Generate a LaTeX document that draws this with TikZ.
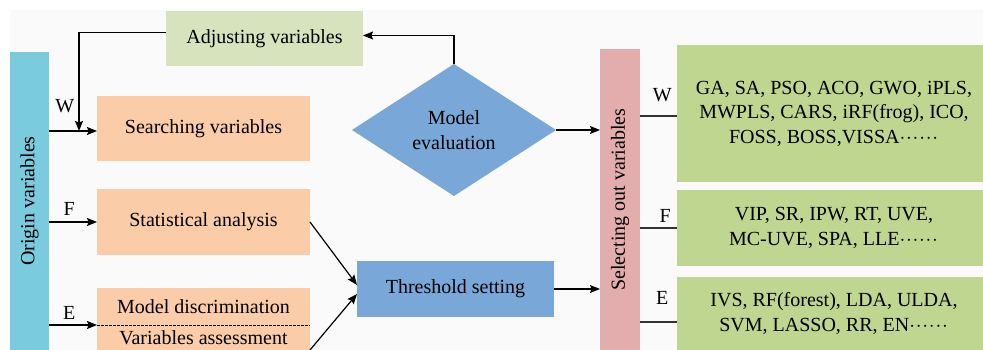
\documentclass[tikz,border=0pt]{standalone}
\usepackage{fontspec}
\setmainfont{Liberation Serif}
\usetikzlibrary{arrows.meta, positioning, shapes.geometric, calc}
\definecolor{OriginC}{HTML}{7BCBDE}
\definecolor{AdjustC}{HTML}{D6E3BC}
\definecolor{PeachC}{HTML}{FACDA8}
\definecolor{BlueC}{HTML}{79A7D7}
\definecolor{PinkC}{HTML}{E4ADAD}
\definecolor{GreenC}{HTML}{BED68F}
\definecolor{BackC}{HTML}{FAFAFA}
\newcommand{\onedot}{\mathord{\cdot}\kern0.8pt}
\newcommand{\moredots}{$\onedot\onedot\onedot\onedot\onedot\onedot$}
\tikzset{
  base/.style={inner sep=0pt, outer sep=0pt, align=center},
  obox/.style={base, fill=OriginC, minimum width=39pt, minimum height=298pt},
  abox/.style={base, fill=AdjustC, minimum width=197pt, minimum height=55pt},
  pbox/.style={base, fill=PeachC, minimum width=213pt},
  tbox/.style={base, fill=BlueC, minimum width=197pt, minimum height=56pt},
  dbox/.style={base, fill=BlueC, diamond, minimum width=204pt, minimum height=132pt},
  sbox/.style={base, fill=PinkC, minimum width=40pt, minimum height=301pt},
  gbox/.style={base, fill=GreenC, minimum width=314pt},
  flow/.style={-{Stealth[length=10pt, width=8pt, inset=1.5pt]}, line width=1.2pt},
  link/.style={line width=1.2pt, draw=black!80},
  dline/.style={line width=0.8pt, dash pattern=on 2.5pt off 1.5pt},
  tag/.style={inner sep=0pt},
}

\begin{document}
\begin{tikzpicture}[x=1pt, y=1pt, font=\fontsize{20}{24.5}\selectfont]
    \useasboundingbox (0,0) rectangle (983,350);
    \clip (0,0) rectangle (983,350);
    \fill[BackC] (10,0) rectangle (983,340);
    % left column
    \node[obox] (orig) at (29.5,149) {\rotatebox{90}{Origin variables}};
    \node[abox] (adjust) at (264.5,311.5) {Adjusting variables};
    \node[pbox, minimum height=65pt] (search) at (203.5,221.5) {Searching variables};
    \node[pbox, minimum height=66pt, below=28pt of search] (stat) {Statistical analysis};
    \node[pbox, minimum height=37pt, below=33pt of stat] (disc) {Model discrimination};
    \node[pbox, minimum height=25pt, below=0pt of disc] (assess) {Variables assessment};
    % middle
    \node[dbox] (eval) at (454,220) {Model\\evaluation};
    \node[tbox] (thresh) at (455.5,61) {Threshold setting};
    \node[sbox] (select) at (620,150.5) {\rotatebox{90}{Selecting out variables}};
    % right column
    \node[gbox, minimum height=137pt] (wbox) at (834,236.5)
      {GA, SA, PSO, ACO, GWO, iPLS,\\MWPLS, CARS, iRF(frog), ICO,\\FOSS, BOSS,VISSA\moredots};
    \node[gbox, minimum height=76pt, below=8pt of wbox] (fbox)
      {VIP, SR, IPW, RT, UVE,\\MC-UVE, SPA, LLE\moredots};
    \node[gbox, minimum height=73pt, below=11pt of fbox] (ebox)
      {IVS, RF(forest), LDA, ULDA,\\SVM, LASSO, RR, EN\moredots};
    \coordinate (wjoin) at (79,219);
    \coordinate (wline) at ($(wbox.west)+(0,-2.5)$);
    \coordinate (eline) at ($(ebox.west)+(0,-8.5)$);

    \draw[flow] (orig.east |- wjoin) -- node[tag, pos=0.33, above=18pt] {W} (search.west |- wjoin);
    \draw[flow] (orig.east |- stat.west) -- node[tag, pos=0.42, above=6pt] {F} (stat.west);
    \draw[flow] (orig.east |- disc.south west) -- node[tag, pos=0.42, above=4.5pt] {E} (disc.south west);
    \draw[dline] (disc.south west) -- (disc.south east);
    \draw[flow] ([yshift=6pt]adjust.west) -| (wjoin);
    \draw[flow] (eval.north) |- ([yshift=3pt]adjust.east);
    \draw[flow] (stat.east) -- ([yshift=4pt]thresh.west);
    \draw[flow] (assess.south east) -- ([yshift=-5pt]thresh.west);
    \draw[flow] (eval.east) -- (eval.east -| select.west);
    \draw[flow] (thresh.east) -- (thresh.east -| select.west);
    \draw[link] (select.east |- wline) -- node[tag, pos=0.6, above=14pt] {W} (wline);
    \draw[link] (select.east |- fbox.west) -- node[tag, pos=0.68, above=5pt] {F} (fbox.west);
    \draw[link] (select.east |- eline) -- node[tag, pos=0.6, above=17pt] {E} (eline);
  \end{tikzpicture}
\end{document}
